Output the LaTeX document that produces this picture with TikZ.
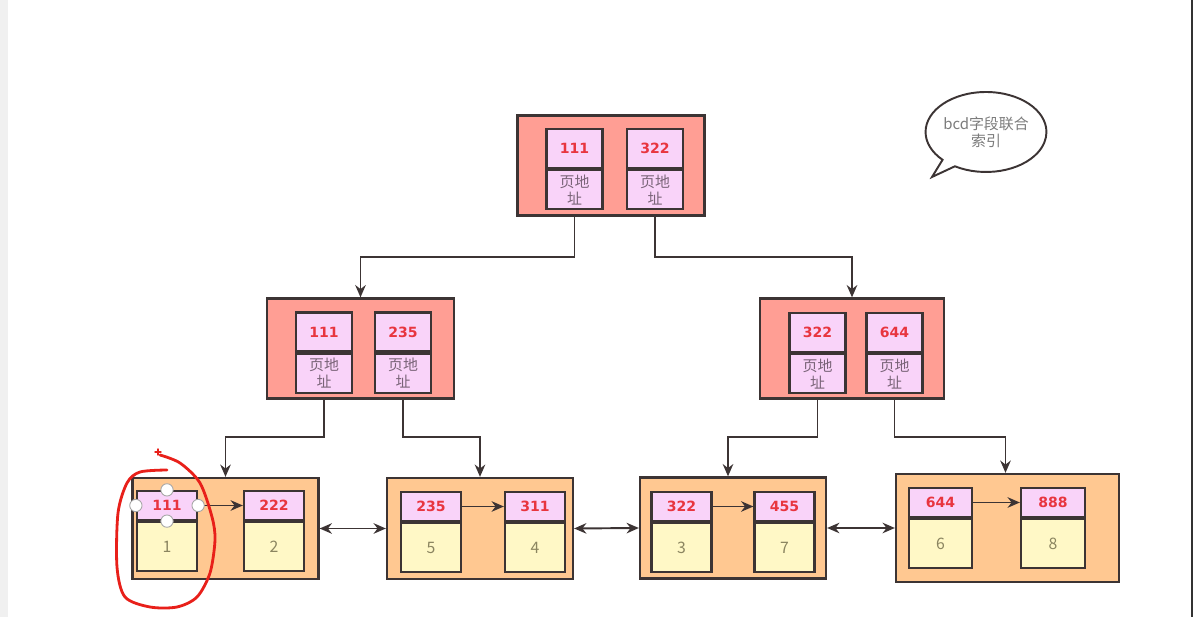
\documentclass[tikz,border=0pt]{standalone}
\usepackage{fontspec}
\setmainfont{Noto Sans CJK SC}
\newfontfamily\keyfont{DejaVu Sans}
\usepackage{tikz}
\usetikzlibrary{shapes.geometric, shapes.callouts, arrows.meta, positioning, calc}

\definecolor{linec}{HTML}{3C3434}
\definecolor{pagefill}{HTML}{FF9E94}
\definecolor{keyfill}{HTML}{F9D3F9}
\definecolor{leaffill}{HTML}{FFC891}
\definecolor{rowfill}{HTML}{FFF8C6}
\definecolor{keyred}{HTML}{E8353F}
\definecolor{addrgray}{HTML}{7A6478}
\definecolor{digitc}{HTML}{8B8560}
\definecolor{notegray}{HTML}{7C7C7C}
\definecolor{penred}{HTML}{E8201A}

\tikzset{
  pagebox/.style={rectangle, draw=linec, line width=1.3pt, fill=pagefill, minimum width=3.74cm, minimum height=2cm},
  leafbox/.style={rectangle, draw=linec, line width=1.3pt, fill=leaffill, minimum width=3.72cm, minimum height=2.02cm},
  keycell/.style={rectangle, draw=linec, line width=1.3pt, fill=keyfill, text=keyred, font=\keyfont\bfseries\fontsize{8}{9}\selectfont, minimum width=1.12cm, minimum height=0.78cm, inner sep=0pt},
  addrcell/.style={rectangle, draw=linec, line width=1.3pt, fill=keyfill, text=addrgray, font=\fontsize{8.5}{9.6}\selectfont, align=center, minimum width=1.12cm, minimum height=0.78cm, inner sep=0pt},
  leafkey/.style={keycell, minimum width=1.2cm, minimum height=0.58cm},
  rowcell/.style={rectangle, draw=linec, line width=1.3pt, fill=rowfill, text=digitc, font=\fontsize{9}{10}\selectfont, minimum width=1.2cm, minimum height=0.98cm, inner sep=0pt},
  link/.style={-{Stealth[length=7pt, width=6pt]}, draw=linec, line width=1.1pt},
  dlink/.style={{Stealth[length=7pt, width=6pt]}-{Stealth[length=7pt, width=6pt]}, draw=linec, line width=1.1pt},
  handle/.style={circle, draw=gray!70, fill=white, line width=0.5pt, minimum size=7pt, inner sep=0pt},
  redmark/.style={draw=penred, line width=1.6pt, line cap=round, line join=round},
}

\begin{document}
\begin{tikzpicture}[x=0.02cm, y=-0.02cm]
    \useasboundingbox (0,0) rectangle (1193,617);
    \fill[gray!12] (0,0) rectangle (8,617);%left strip
    \fill[black!80] (1191,0) rectangle (1193,617);%right edge
    % =============== root page ====================
    \node (r) [pagebox] at (611,165.5) {};
    \node (rk1) [keycell] at (574.5,148.5) {111};
    \node (ra1) [addrcell, below=0pt of rk1] {页地\\址};
    \node (rk2) [keycell] at (655,148.5) {322};
    \node (ra2) [addrcell, below=0pt of rk2] {页地\\址};
    % =============== middle pages ====================
    \node (ml) [pagebox] at (360.5,348.5) {};
    \node (mlk1) [keycell] at (324,332) {111};
    \node (mla1) [addrcell, below=0pt of mlk1] {页地\\址};
    \node (mlk2) [keycell] at (403,332) {235};
    \node (mla2) [addrcell, below=0pt of mlk2] {页地\\址};
    \node (mr) [pagebox, minimum width=3.68cm] at (852,348.5) {};
    \node (mrk1) [keycell] at (817.5,332.5) {322};
    \node (mra1) [addrcell, below=0pt of mrk1] {页地\\址};
    \node (mrk2) [keycell] at (894.5,332.5) {644};
    \node (mra2) [addrcell, below=0pt of mrk2] {页地\\址};
    % =============== leaf pages ====================
    \node (l1) [leafbox] at (225.5,528.5) {};
    \node (l1k1) [leafkey] at (167,505.5) {111};
    \node (l1v1) [rowcell, below=0pt of l1k1] {1};
    \node (l1k2) [leafkey] at (274,505.5) {222};
    \node (l1v2) [rowcell, below=0pt of l1k2] {2};
    \node (l2) [leafbox] at (480,528.5) {};
    \node (l2k1) [leafkey] at (431,506.5) {235};
    \node (l2v1) [rowcell, below=0pt of l2k1] {5};
    \node (l2k2) [leafkey] at (535,506.5) {311};
    \node (l2v2) [rowcell, below=0pt of l2k2] {4};
    \node (l3) [leafbox] at (733,528) {};
    \node (l3k1) [leafkey] at (681.5,506.5) {322};
    \node (l3v1) [rowcell, below=0pt of l3k1] {3};
    \node (l3k2) [leafkey] at (784.5,506.5) {455};
    \node (l3v2) [rowcell, below=0pt of l3k2] {7};
    \node (l4) [leafbox, minimum width=4.46cm, minimum height=2.16cm] at (1007.5,528) {};
    \node (l4k1) [leafkey, minimum width=1.26cm] at (940.5,502.5) {644};
    \node (l4v1) [rowcell, minimum width=1.26cm, below=0pt of l4k1] {6};
    \node (l4k2) [leafkey, minimum width=1.28cm] at (1053,502.5) {888};
    \node (l4v2) [rowcell, minimum width=1.28cm, below=0pt of l4k2] {8};
    % =============== tree links ====================
    \coordinate (topbend) at (0,257);
    \coordinate (midbend) at (0,437);
    \draw[link] (ra1 |- r.south) -- (ra1 |- topbend) -| (ml.north);
    \draw[link] (ra2 |- r.south) -- (ra2 |- topbend) -| (mr.north);
    \draw[link] (mla1 |- ml.south) -- (mla1 |- midbend) -| (l1.north);
    \draw[link] (mla2 |- ml.south) -- (mla2 |- midbend) -| (l2.north);
    \draw[link] (mra1 |- mr.south) -- (mra1 |- midbend) -| ([xshift=-0.1cm]l3.north);
    \draw[link] (mra2 |- mr.south) -- (mra2 |- midbend) -| ([xshift=-0.04cm]l4.north);
    % leaf row links
    \draw[link] (l1k1) -- (l1k2);
    \draw[link] (l2k1) -- (l2k2);
    \draw[link] (l3k1) -- (l3k2);
    \draw[link] (l4k1) -- (l4k2);
    \draw[dlink] (l1.east) -- (l2.west);
    \draw[dlink] (l2.east) -- (l3.west);
    \draw[dlink] (l3.east) -- (l4.west);
    % =============== note bubble ====================
    \node (note) [ellipse callout, draw=linec, line width=1.1pt, fill=white, minimum width=2.16cm, minimum height=1.6cm, callout absolute pointer={(932,177)}, align=center, text=notegray, font=\fontsize{8.5}{9.6}\selectfont, inner sep=0pt] at (986,132) {bcd字段联合\\索引};
    % =============== selection marks ====================
    \node (h1) [handle] at (l1k1.north) {};
    \node (h2) [handle] at (l1k1.south) {};
    \node (h3) [handle] at (l1k1.west) {};
    \node (h4) [handle] at (l1k1.east) {};
    \draw[redmark] plot[smooth] coordinates {(160,455) (180,463) (200,483) (212,517) (215,540) (210,573) (197,597) (177,607) (150,607) (125,597) (117,567) (118,513) (127,483) (140,472) (167,470)};
    \draw[redmark, line width=0.8pt] (155,452) -- (161,452) (158,449) -- (158,455);
\end{tikzpicture}
\end{document}
